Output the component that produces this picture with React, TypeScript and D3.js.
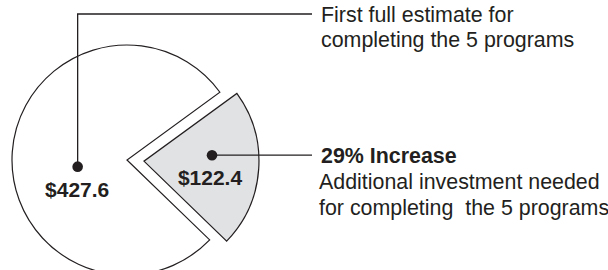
import React from "react";
import * as d3 from "d3";

const categories = ["Additional investment", "First full estimate"];
const values = [122.4, 427.6];
const valueLabels = ["$122.4", "$427.6"];
const fills = ["#e1e2e4", "#ffffff"];
const annotationTop = ["First full estimate for", "completing the 5 programs"];
const annotationBottomTitle = "29% Increase";
const annotationBottom = ["Additional investment needed", "for completing  the 5 programs"];

const W = 608;
const H = 270;
const FONT = "'Liberation Sans', Arial, Helvetica, sans-serif";
const INK = "#231f20";

export default function App() {
  const cx = 127;
  const cy = 160;
  const r = 115;
  const start = (53.9 * Math.PI) / 180;
  const pie = d3
    .pie<number>()
    .sort(null)
    .value((d) => d)
    .startAngle(start)
    .endAngle(start + 2 * Math.PI);
  const arcs = pie(values);
  const arc = d3.arc<d3.PieArcDatum<number>>().innerRadius(0).outerRadius(r);
  const explode = 17;

  const slices = arcs.map((a, i) => {
    const mid = (a.startAngle + a.endAngle) / 2;
    const off = i === 0 ? explode : 0;
    const dx = off * Math.sin(mid);
    const dy = -off * Math.cos(mid);
    return { a, i, dx, dy, mid };
  });

  const polar = (ang: number, rad: number): [number, number] => {
    const t = (ang * Math.PI) / 180;
    return [Math.sin(t) * rad, -Math.cos(t) * rad];
  };

  const small = slices[0];
  const sp = polar(85, r * 0.594);
  const sdx = cx + small.dx + sp[0];
  const sdy = cy + small.dy + sp[1];
  const bp = polar(262.3, r * 0.433);
  const bdx = cx + bp[0];
  const bdy = cy + bp[1];

  const lineEndX = 312;
  const textX = 321;
  const topLineY = 14;
  const fs = 21.4;

  return (
    <svg
      width={W}
      height={H}
      style={{ position: "absolute", left: 0, top: 0, background: "#fff" }}
      fontFamily={FONT}
    >
      {slices.map((s) => (
        <path
          key={categories[s.i]}
          d={arc(s.a) || ""}
          transform={`translate(${cx + s.dx},${cy + s.dy})`}
          fill={fills[s.i]}
          stroke={INK}
          strokeWidth={1.2}
          strokeLinejoin="miter"
        />
      ))}

      {/* leader for big slice */}
      <polyline
        points={`${bdx},${bdy} ${bdx},${topLineY} ${lineEndX},${topLineY}`}
        fill="none"
        stroke={INK}
        strokeWidth={1.3}
      />
      <circle cx={bdx} cy={bdy} r={5.3} fill={INK} />
      <text x={bdx - 0.5} y={197} textAnchor="middle" fontWeight="bold" fontSize={21} fill={INK}>
        {valueLabels[1]}
      </text>

      {/* leader for small slice */}
      <line x1={sdx} y1={sdy} x2={lineEndX} y2={sdy} stroke={INK} strokeWidth={1.3} />
      <circle cx={sdx} cy={sdy} r={5.3} fill={INK} />
      <text x={210} y={185} textAnchor="middle" fontWeight="bold" fontSize={21} fill={INK}>
        {valueLabels[0]}
      </text>

      {annotationTop.map((t, i) => (
        <text key={t} x={textX} y={22 + i * 25} fontSize={fs} fill={INK}>
          {t}
        </text>
      ))}
      <text x={textX} y={163} fontSize={fs} fontWeight="bold" fill={INK}>
        {annotationBottomTitle}
      </text>
      {annotationBottom.map((t, i) => (
        <text key={t} x={textX - 2} y={189 + i * 25.5} fontSize={fs} fill={INK} style={{ whiteSpace: "pre" }}>
          {t}
        </text>
      ))}
    </svg>
  );
}
